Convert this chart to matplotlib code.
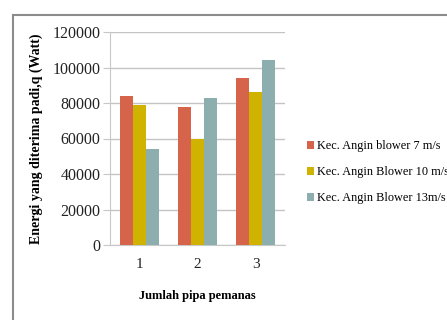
import matplotlib
matplotlib.use("Agg")
import matplotlib.pyplot as plt
from matplotlib.patches import Rectangle
import numpy as np

plt.rcParams['font.family'] = ['Liberation Serif', 'DejaVu Serif']

# data
pipa = ['1', '2', '3']
seri_label = ['Kec. Angin blower 7 m/s', 'Kec. Angin Blower 10 m/s', 'Kec. Angin Blower 13m/s']
q_7 = [84000, 78000, 94000]
q_10 = [79000, 60000, 86000]
q_13 = [54000, 83000, 104000]
warna = ['#D5644A', '#CFB300', '#8DAEAE']

fig = plt.figure(figsize=(4.47, 3.2), dpi=100)
ax = fig.add_axes([110 / 447, 1 - 245 / 320, 175 / 447, 213 / 320])

# outer chart border
fig.patches.append(Rectangle((13 / 447, -0.2), 1.2, 1 - 15 / 320 + 0.2,
                             transform=fig.transFigure, fill=False,
                             edgecolor='#8c8c8c', linewidth=1.5))

x = np.arange(len(pipa))
w = 0.222
for i, (vals, lab) in enumerate(zip([q_7, q_10, q_13], seri_label)):
    ax.bar(x + (i - 1) * w, vals, w, color=warna[i], label=lab, zorder=3)

ax.set_xlim(-0.5, 2.5)
ax.set_ylim(0, 120000)
ax.set_yticks(np.arange(0, 120001, 20000))
ax.set_xticks(x)
ax.set_xticklabels(pipa)
ax.yaxis.grid(True, color='#c4c4c4', linewidth=1, zorder=0)
for s in ['top', 'right']:
    ax.spines[s].set_visible(False)
ax.spines['left'].set_color('#c8c8c8')
ax.spines['bottom'].set_color('#c8c8c8')
ax.tick_params(axis='y', length=5, color='#c8c8c8', labelsize=11.5, pad=2, labelcolor='#222222')
ax.tick_params(axis='x', length=0, labelsize=11, pad=9, labelcolor='#222222')

ax.set_ylabel('Energi yang diterima padi,q (Watt)', fontsize=10, fontweight='bold', labelpad=7)
ax.set_xlabel('Jumlah pipa pemanas', fontsize=9, fontweight='bold', labelpad=14)

fig.legend(loc='upper left', bbox_to_anchor=(307 / 447, 1 - 140 / 320), frameon=False,
           fontsize=8.8, handlelength=0.6, handleheight=0.6, handletextpad=0.2,
           labelspacing=1.15, borderaxespad=0, borderpad=0)

fig.savefig('out.png', dpi=100)
